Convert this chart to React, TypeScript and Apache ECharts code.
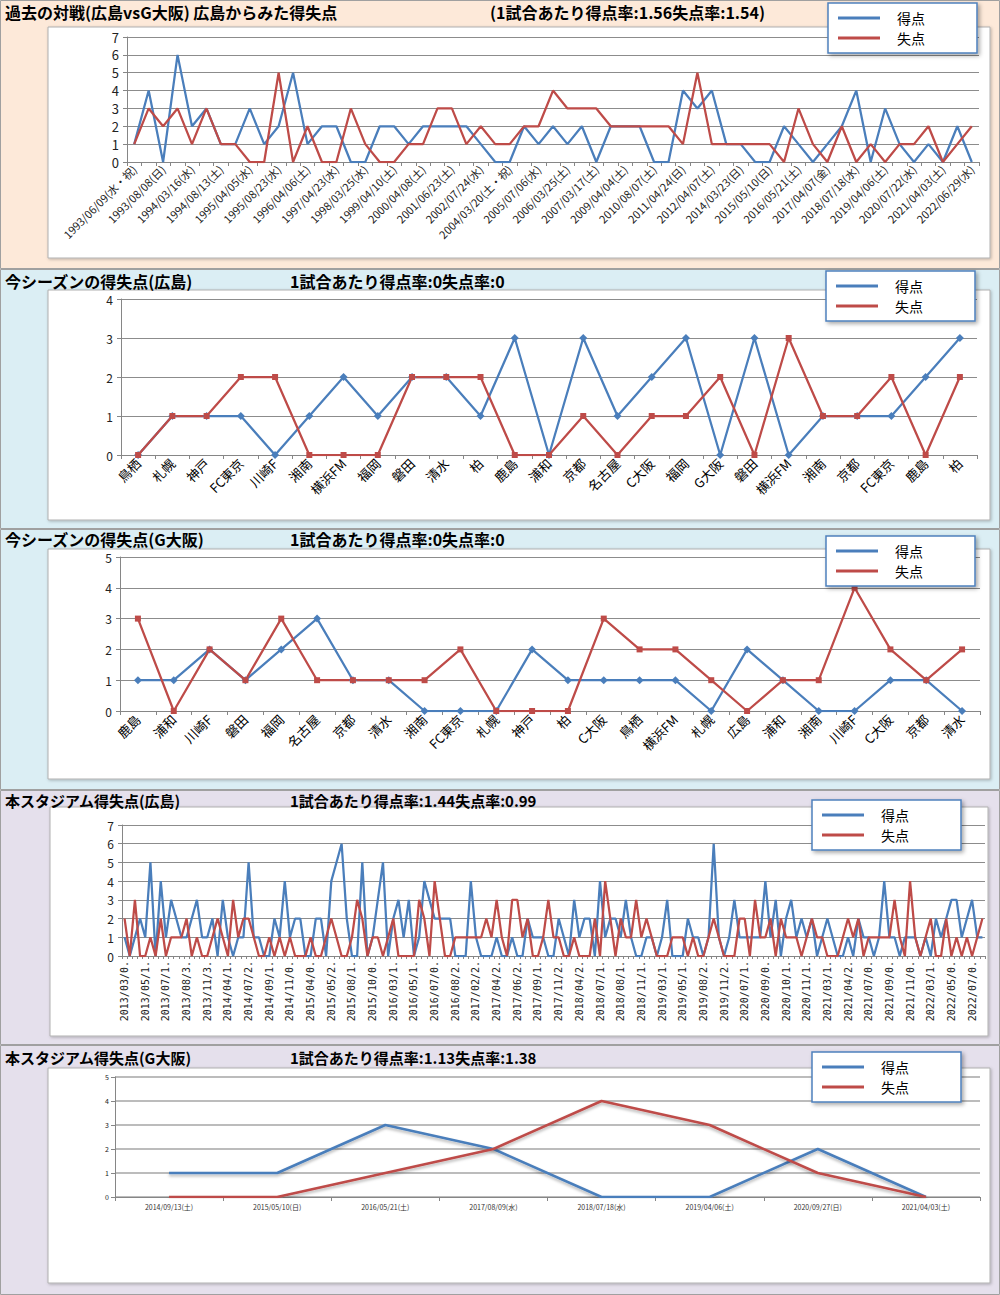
import React, { useEffect, useRef } from 'react';
import * as echarts from 'echarts';

const BLUE = '#4a7ebb';
const RED = '#be4b48';
const JP = "'Noto Sans CJK JP', 'Noto Sans', sans-serif";

// ---------- Panel 1: 過去の対戦 ----------
const h2hLabels = [
  '1993/06/09(水・祝)', '1993/08/08(日)', '1994/03/16(水)', '1994/08/13(土)', '1995/04/05(水)',
  '1995/08/23(水)', '1996/04/06(土)', '1997/04/23(水)', '1998/03/25(水)', '1999/04/10(土)',
  '2000/04/08(土)', '2001/06/23(土)', '2002/07/24(水)', '2004/03/20(土・祝)', '2005/07/06(水)',
  '2006/03/25(土)', '2007/03/17(土)', '2009/04/04(土)', '2010/08/07(土)', '2011/04/24(日)',
  '2012/04/07(土)', '2014/03/23(日)', '2015/05/10(日)', '2016/05/21(土)', '2017/04/07(金)',
  '2018/07/18(水)', '2019/04/06(土)', '2020/07/22(水)', '2021/04/03(土)', '2022/06/29(水)',
];
const h2hFor = [
  1, 4, 0, 6, 2, 3, 1, 1, 3, 1, 2, 5, 1, 2, 2, 0, 0, 2, 2, 1, 2, 2, 2, 2, 1, 0,
  0, 2, 1, 2, 1, 2, 0, 2, 2, 2, 0, 0, 4, 3, 4, 1, 1, 0, 0, 2, 1, 0, 1, 2, 4, 0, 3, 1, 0, 1, 0, 2, 0,
];
const h2hAgainst = [
  1, 3, 2, 3, 1, 3, 1, 1, 0, 0, 5, 0, 2, 0, 0, 3, 1, 0, 0, 1, 1, 3, 3, 1, 2, 1,
  1, 2, 2, 4, 3, 3, 3, 2, 2, 2, 2, 2, 1, 5, 1, 1, 1, 1, 1, 0, 3, 1, 0, 2, 0, 1, 0, 1, 1, 2, 0, 1, 2,
];

// ---------- Panel 2: 今シーズン(広島) ----------
const seasonHiroTeams = ['鳥栖', '札幌', '神戸', 'FC東京', '川崎F', '湘南', '横浜FM', '福岡', '磐田', '清水', '柏', '鹿島', '浦和', '京都', '名古屋', 'C大阪', '福岡', 'G大阪', '磐田', '横浜FM', '湘南', '京都', 'FC東京', '鹿島', '柏'];
const seasonHiroFor = [0, 1, 1, 1, 0, 1, 2, 1, 2, 2, 1, 3, 0, 3, 1, 2, 3, 0, 3, 0, 1, 1, 1, 2, 3];
const seasonHiroAgainst = [0, 1, 1, 2, 2, 0, 0, 0, 2, 2, 2, 0, 0, 1, 0, 1, 1, 2, 0, 3, 1, 1, 2, 0, 2];

// ---------- Panel 3: 今シーズン(G大阪) ----------
const seasonGosTeams = ['鹿島', '浦和', '川崎F', '磐田', '福岡', '名古屋', '京都', '清水', '湘南', 'FC東京', '札幌', '神戸', '柏', 'C大阪', '鳥栖', '横浜FM', '札幌', '広島', '浦和', '湘南', '川崎F', 'C大阪', '京都', '清水'];
const seasonGosFor = [1, 1, 2, 1, 2, 3, 1, 1, 0, 0, 0, 2, 1, 1, 1, 1, 0, 2, 1, 0, 0, 1, 1, 0];
const seasonGosAgainst = [3, 0, 2, 1, 3, 1, 1, 1, 1, 2, 0, 0, 0, 3, 2, 2, 1, 0, 1, 1, 4, 2, 1, 2];

// ---------- Panel 4: 本スタジアム(広島) ----------
const stadiumHiroLabels = [
  '2013/03/0.', '2013/05/1.', '2013/07/1.', '2013/08/3.', '2013/11/3.', '2014/04/1.', '2014/07/2.',
  '2014/09/1.', '2014/11/0.', '2015/04/0.', '2015/05/2.', '2015/08/1.', '2015/10/0.', '2016/03/1.',
  '2016/05/1.', '2016/07/0.', '2016/08/2.', '2017/02/2.', '2017/04/2.', '2017/06/2.', '2017/09/1.',
  '2017/11/2.', '2018/04/2.', '2018/07/1.', '2018/08/1.', '2018/11/1.', '2019/03/1.', '2019/05/1.',
  '2019/08/2.', '2019/11/2.', '2020/07/1.', '2020/09/0.', '2020/10/1.', '2020/11/1.', '2021/03/1.',
  '2021/04/2.', '2021/07/0.', '2021/09/0.', '2021/11/0.', '2022/03/1.', '2022/05/0.', '2022/07/0.',
];
const stadiumHiroFor = [
  1, 0, 1, 2, 1, 5, 0, 4, 1, 3, 2, 1, 1, 2, 3, 1, 1, 2, 0, 3, 1, 0, 1, 1, 5, 1, 1, 0, 0, 2, 1, 4, 1, 2, 2, 0, 0, 2, 2, 0, 4, 5,
  6, 2, 0, 0, 5, 0, 1, 3, 5, 0, 2, 3, 1, 3, 0, 1, 4, 3, 2, 2, 2, 2, 0, 0, 0, 4, 1, 0, 0, 0, 1, 0, 0, 1, 0, 0, 2, 1, 1, 1, 0, 0,
  2, 1, 0, 3, 1, 2, 2, 0, 4, 1, 2, 2, 1, 3, 1, 0, 0, 1, 1, 0, 1, 3, 0, 0, 0, 2, 1, 1, 0, 1, 6, 1, 0, 1, 3, 1, 1, 1, 1, 1, 4, 1,
  3, 0, 2, 3, 1, 2, 1, 2, 0, 1, 2, 1, 0, 0, 1, 0, 2, 1, 1, 0, 1, 4, 1, 1, 0, 1, 1, 1, 0, 1, 0, 2, 1, 2, 3, 3, 1, 2, 3, 1, 1,
];
const stadiumHiroAgainst = [
  2, 0, 3, 0, 0, 1, 0, 2, 0, 1, 1, 1, 2, 0, 1, 0, 0, 1, 2, 1, 0, 3, 1, 2, 2, 1, 0, 0, 1, 0, 1, 0, 1, 0, 0, 0, 1, 0, 0, 1, 2, 1,
  0, 0, 1, 3, 2, 0, 1, 1, 0, 1, 2, 0, 0, 0, 0, 3, 2, 0, 4, 2, 0, 0, 1, 1, 1, 1, 1, 1, 2, 1, 3, 1, 0, 3, 3, 1, 2, 0, 0, 1, 3, 1,
  1, 0, 0, 1, 0, 0, 0, 2, 0, 4, 2, 0, 2, 1, 1, 3, 1, 2, 1, 0, 0, 0, 1, 1, 1, 0, 1, 0, 0, 1, 2, 1, 0, 0, 0, 2, 2, 0, 3, 1, 1, 2,
  0, 2, 1, 1, 1, 0, 1, 2, 1, 1, 0, 0, 0, 1, 2, 1, 2, 0, 1, 1, 1, 1, 1, 3, 1, 0, 4, 1, 0, 1, 2, 0, 0, 2, 0, 1, 0, 1, 0, 1, 2,
];

// ---------- Panel 5: 本スタジアム(G大阪) ----------
const stadiumGosDates = ['2014/09/13(土)', '2015/05/10(日)', '2016/05/21(土)', '2017/08/09(水)', '2018/07/18(水)', '2019/04/06(土)', '2020/09/27(日)', '2021/04/03(土)'];
const stadiumGosFor = [1, 1, 3, 2, 0, 0, 2, 0];
const stadiumGosAgainst = [0, 0, 1, 2, 4, 3, 1, 0];

// categories built from the label lists
const h2hCats = h2hFor.map((_, i) => (i % 2 === 0 ? h2hLabels[i / 2] : ''));
const stadiumHiroCats = stadiumHiroFor.map((_, i) => (i % 4 === 0 ? stadiumHiroLabels[i / 4] : ''));

const panels = [
  {
    bg: [0, 0, 1000, 269], bgColor: '#fde9d9', box: [48, 27, 942, 231],
    title: '過去の対戦(広島vsG大阪) 広島からみた得失点', rate: '(1試合あたり得点率:1.56失点率:1.54)',
    titleY: 12, rateX: 490, titleSize: 16,
    grid: { left: 127, top: 37, width: 852, height: 125 }, ymax: 7,
    cats: h2hCats, forV: h2hFor, agV: h2hAgainst, markers: false,
    xLabel: { rotate: 45, interval: 1, fontSize: 11, color: '#222', fontFamily: JP, margin: 5 },
    yFont: 13, legend: { left: 828, top: 3 },
  },
  {
    bg: [0, 269, 1000, 260], bgColor: '#dbeef4', box: [48, 290, 942, 230],
    title: '今シーズンの得失点(広島)', rate: '1試合あたり得点率:0失点率:0',
    titleY: 281, rateX: 290, titleSize: 16,
    grid: { left: 121, top: 299, width: 856, height: 156 }, ymax: 4,
    cats: seasonHiroTeams, forV: seasonHiroFor, agV: seasonHiroAgainst, markers: true,
    xLabel: { rotate: 45, interval: 0, fontSize: 13, color: '#000', fontFamily: JP, margin: 6 },
    yFont: 12, legend: { left: 826, top: 271 },
  },
  {
    bg: [0, 529, 1000, 261], bgColor: '#dbeef4', box: [48, 549, 942, 230],
    title: '今シーズンの得失点(G大阪)', rate: '1試合あたり得点率:0失点率:0',
    titleY: 539, rateX: 290, titleSize: 16,
    grid: { left: 120, top: 557, width: 860, height: 154 }, ymax: 5,
    cats: seasonGosTeams, forV: seasonGosFor, agV: seasonGosAgainst, markers: true,
    xLabel: { rotate: 45, interval: 0, fontSize: 13, color: '#000', fontFamily: JP, margin: 6 },
    yFont: 12, legend: { left: 826, top: 536 },
  },
  {
    bg: [0, 790, 1000, 255], bgColor: '#e5e0ec', box: [50, 807, 938, 229],
    title: '本スタジアム得失点(広島)', rate: '1試合あたり得点率:1.44失点率:0.99',
    titleY: 800, rateX: 290, titleSize: 15,
    grid: { left: 122, top: 825, width: 863, height: 131 }, ymax: 7,
    cats: stadiumHiroCats, forV: stadiumHiroFor, agV: stadiumHiroAgainst, markers: false,
    xLabel: { rotate: 90, interval: 3, fontSize: 10, color: '#222', fontFamily: "'DejaVu Sans Mono', monospace", margin: 5 },
    yFont: 12, legend: { left: 812, top: 800 },
  },
  {
    bg: [0, 1045, 1000, 250], bgColor: '#e5e0ec', box: [48, 1068, 942, 215],
    title: '本スタジアム得失点(G大阪)', rate: '1試合あたり得点率:1.13失点率:1.38',
    titleY: 1057, rateX: 290, titleSize: 15,
    grid: { left: 115, top: 1077, width: 865, height: 120 }, ymax: 5,
    cats: stadiumGosDates, forV: stadiumGosFor, agV: stadiumGosAgainst, markers: false,
    xLabel: { rotate: 0, interval: 0, fontSize: 7, color: '#333', fontFamily: JP, margin: 6 },
    yFont: 7, legend: { left: 812, top: 1052 },
  },
];

function buildOption() {
  const graphic: any[] = [];
  const grid: any[] = [];
  const xAxis: any[] = [];
  const yAxis: any[] = [];
  const series: any[] = [];
  const legend: any[] = [];

  panels.forEach((p, i) => {
    graphic.push({
      type: 'rect', z: -10, silent: true,
      shape: { x: p.bg[0] + 0.5, y: p.bg[1] + 0.5, width: p.bg[2] - 1, height: p.bg[3] - 1 },
      style: { fill: p.bgColor, stroke: '#a0a0a0', lineWidth: 1 },
    });
    graphic.push({
      type: 'rect', z: -9, silent: true,
      shape: { x: p.box[0], y: p.box[1], width: p.box[2], height: p.box[3] },
      style: {
        fill: '#ffffff', stroke: '#b0b0b0', lineWidth: 1,
        shadowBlur: 3, shadowColor: 'rgba(0,0,0,0.25)', shadowOffsetX: 1, shadowOffsetY: 1,
      },
    });
    graphic.push({
      type: 'text', z: 10, silent: true,
      style: {
        text: p.title, x: 5, y: p.titleY, fontSize: p.titleSize, fontWeight: 'bold',
        fontFamily: JP, fill: '#000', verticalAlign: 'middle',
      },
    });
    graphic.push({
      type: 'text', z: 10, silent: true,
      style: {
        text: p.rate, x: p.rateX, y: p.titleY, fontSize: p.titleSize, fontWeight: 'bold',
        fontFamily: JP, fill: '#000', verticalAlign: 'middle',
      },
    });

    grid.push({ ...p.grid, containLabel: false });

    xAxis.push({
      type: 'category', gridIndex: i, data: p.cats, boundaryGap: true,
      axisLine: { show: true, lineStyle: { color: '#868686', width: 1 } },
      axisTick: { show: true, interval: 0, length: i === 3 ? 3 : 4, lineStyle: { color: '#868686' } },
      axisLabel: { ...p.xLabel },
      splitLine: { show: false },
    });
    yAxis.push({
      type: 'value', gridIndex: i, min: 0, max: p.ymax, interval: 1,
      axisLine: { show: true, lineStyle: { color: '#868686', width: 1 } },
      axisTick: { show: true, length: 4, lineStyle: { color: '#868686' } },
      axisLabel: { fontSize: p.yFont, color: '#222', fontFamily: JP, margin: i === 4 ? 6 : 8 },
      splitLine: { show: true, lineStyle: { color: i === 4 ? '#a6a6a6' : '#8c8c8c', width: i === 4 ? 1.5 : 1 } },
    });

    const lw = i === 4 ? 2.5 : 2.25;
    const shadow = i === 4 ? { shadowBlur: 3, shadowColor: 'rgba(0,0,0,0.3)', shadowOffsetY: 2 } : {};
    series.push({
      type: 'line', name: '得点', xAxisIndex: i, yAxisIndex: i, data: p.forV,
      showSymbol: p.markers, symbol: 'diamond', symbolSize: 8,
      lineStyle: { color: BLUE, width: lw, ...shadow }, itemStyle: { color: BLUE },
      silent: true, z: 3,
    });
    series.push({
      type: 'line', name: '失点', xAxisIndex: i, yAxisIndex: i, data: p.agV,
      showSymbol: p.markers, symbol: 'rect', symbolSize: 6,
      lineStyle: { color: RED, width: lw, ...shadow }, itemStyle: { color: RED },
      silent: true, z: 3,
    });

    legend.push({
      left: p.legend.left, top: p.legend.top, orient: 'vertical',
      data: ['得点', '失点'], icon: 'rect', itemWidth: 42, itemHeight: 3, itemGap: 6,
      padding: [8, 52, 8, 10], backgroundColor: '#ffffff', borderColor: '#4f81bd', borderWidth: 1.5,
      shadowBlur: 4, shadowColor: 'rgba(0,0,0,0.35)', shadowOffsetX: 2, shadowOffsetY: 2,
      textStyle: { fontSize: 14, color: '#000', fontFamily: JP, padding: [0, 0, 0, 12] },
      selectedMode: false,
    });
  });

  return { animation: false, graphic, grid, xAxis, yAxis, series, legend };
}

export default function App() {
  const ref = useRef<HTMLDivElement>(null);
  useEffect(() => {
    if (!ref.current) return;
    const chart = echarts.init(ref.current, null, { renderer: 'svg' });
    chart.setOption(buildOption() as any);
    return () => chart.dispose();
  }, []);
  return (
    <div
      ref={ref}
      style={{ position: 'absolute', left: 0, top: 0, width: 1000, height: 1295, background: '#ffffff' }}
    />
  );
}
